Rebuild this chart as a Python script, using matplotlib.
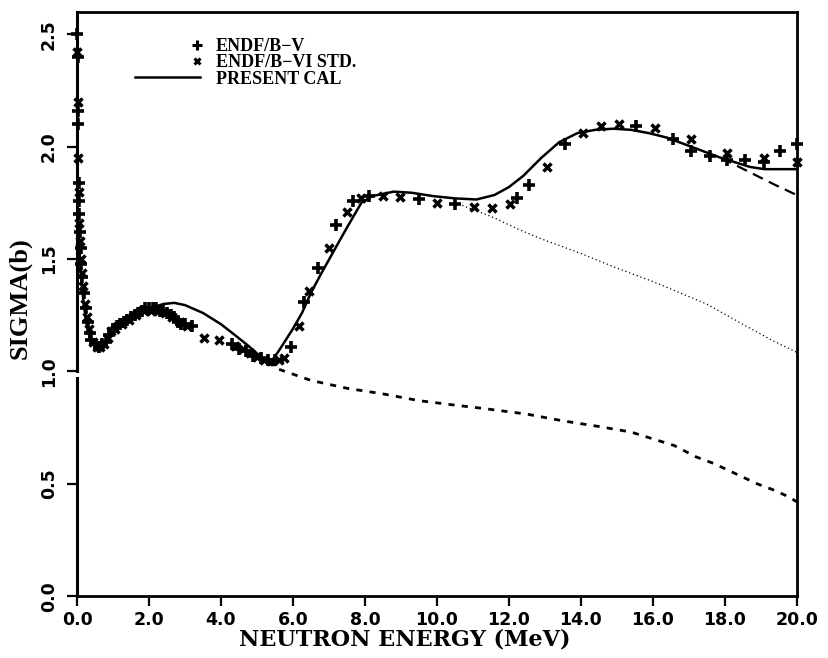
import matplotlib
matplotlib.use('Agg')
import matplotlib.pyplot as plt
import matplotlib.transforms as mtransforms
from matplotlib.legend_handler import HandlerLine2DCompound
from matplotlib.lines import Line2D

# ENDF/B-V evaluation (plus markers)
endf5_e = [0.01, 0.02, 0.02, 0.03, 0.04, 0.05, 0.06, 0.08, 0.10, 0.12, 0.15,
           0.20, 0.25, 0.30, 0.35, 0.40, 0.50, 0.60, 0.70, 0.80, 0.90, 1.0,
           1.1, 1.2, 1.3, 1.4, 1.5, 1.6, 1.7, 1.8, 1.9, 2.0, 2.1, 2.2, 2.3,
           2.4, 2.5, 2.6, 2.7, 2.8, 2.9, 3.0, 3.2, 4.3, 4.5, 4.7, 4.9, 5.1,
           5.3, 5.5, 5.95, 6.31, 6.7, 7.2, 7.68, 8.1, 9.5, 10.5, 12.23,
           12.57, 13.55, 15.53, 16.56, 17.07, 17.6, 18.05, 18.57, 19.08,
           19.55, 20.0]
endf5_s = [2.50, 2.40, 2.16, 2.10, 1.84, 1.76, 1.70, 1.62, 1.55, 1.48, 1.42,
           1.35, 1.28, 1.22, 1.17, 1.14, 1.12, 1.11, 1.12, 1.13, 1.16, 1.19,
           1.20, 1.21, 1.22, 1.23, 1.24, 1.25, 1.26, 1.27, 1.28, 1.28, 1.28,
           1.28, 1.27, 1.27, 1.26, 1.25, 1.24, 1.22, 1.21, 1.21, 1.20, 1.12,
           1.10, 1.09, 1.07, 1.06, 1.05, 1.05, 1.11, 1.31, 1.46, 1.65, 1.76,
           1.78, 1.765, 1.745, 1.77, 1.83, 2.01, 2.09, 2.035, 1.98, 1.96,
           1.94, 1.94, 1.93, 1.98, 2.01]

# ENDF/B-VI standard (cross markers)
endf6_e = [0.01, 0.02, 0.03, 0.04, 0.06, 0.08, 0.10, 0.13, 0.17, 0.22, 0.28,
           0.33, 0.45, 0.55, 0.65, 0.75, 0.85, 0.95, 1.05, 1.25, 1.45, 1.65,
           1.85, 2.05, 2.25, 2.45, 2.65, 2.85, 3.05, 3.52, 3.94, 4.4, 4.6,
           4.8, 5.0, 5.2, 5.4, 5.6, 5.76, 6.17, 6.45, 7.0, 7.49, 7.9, 8.5,
           8.97, 10.0, 11.03, 11.54, 12.04, 13.07, 14.05, 14.55, 15.05,
           16.06, 17.07, 18.05, 19.08, 20.0]
endf6_s = [2.42, 2.20, 1.95, 1.80, 1.66, 1.58, 1.50, 1.44, 1.38, 1.30, 1.24,
           1.19, 1.13, 1.11, 1.11, 1.12, 1.15, 1.18, 1.19, 1.21, 1.23, 1.25,
           1.27, 1.27, 1.27, 1.26, 1.24, 1.22, 1.20, 1.15, 1.14, 1.115, 1.10,
           1.08, 1.065, 1.05, 1.045, 1.05, 1.06, 1.20, 1.36, 1.55, 1.71,
           1.77, 1.78, 1.775, 1.75, 1.73, 1.725, 1.745, 1.91, 2.06, 2.09,
           2.10, 2.085, 2.035, 1.97, 1.95, 1.93]

# present calculation (total)
cal_e = [0.03, 0.06, 0.10, 0.17, 0.25, 0.35, 0.50, 0.65, 0.80, 1.0, 1.3,
         1.6, 2.0, 2.4, 2.7, 3.0, 3.5, 4.0, 4.4, 4.75, 5.0, 5.2, 5.4, 5.6,
         5.8, 6.0, 6.25, 6.5, 6.8, 7.15, 7.5, 7.9, 8.2, 8.5, 8.8, 9.3, 9.9,
         10.5, 11.1, 11.6, 12.0, 12.4, 12.9, 13.4, 13.9, 14.4, 14.9, 15.4,
         15.9, 16.4, 16.9, 17.4, 17.9, 18.3, 18.7, 19.1, 19.5, 20.0]
cal_s = [1.70, 1.56, 1.45, 1.32, 1.22, 1.15, 1.11, 1.11, 1.13, 1.17, 1.21,
         1.25, 1.28, 1.30, 1.305, 1.295, 1.26, 1.21, 1.16, 1.115, 1.08,
         1.05, 1.045, 1.09, 1.14, 1.19, 1.26, 1.35, 1.44, 1.54, 1.64, 1.75,
         1.78, 1.79, 1.80, 1.795, 1.78, 1.77, 1.765, 1.785, 1.82, 1.87,
         1.95, 2.02, 2.06, 2.075, 2.08, 2.075, 2.06, 2.04, 2.01, 1.98,
         1.95, 1.93, 1.91, 1.90, 1.90, 1.90]

# partial components
alt_e = [17.9, 18.4, 18.9, 19.4, 20.0]
alt_s = [1.95, 1.91, 1.87, 1.83, 1.785]

dot_e = [10.6, 11.5, 12.3, 12.9, 14.0, 15.0, 16.0, 16.6, 17.5, 18.5, 19.3, 20.0]
dot_s = [1.745, 1.69, 1.63, 1.59, 1.525, 1.46, 1.40, 1.36, 1.30, 1.21, 1.14, 1.085]

low_e = [5.3, 5.6, 6.5, 7.5, 8.5, 9.5, 10.5, 11.3, 12.5, 13.5, 14.5, 15.4,
         16.0, 16.6, 17.2, 17.7, 18.3, 18.9, 19.4, 19.8, 20.0]
low_s = [1.04, 1.01, 0.96, 0.925, 0.90, 0.87, 0.85, 0.835, 0.81, 0.78, 0.755,
         0.73, 0.70, 0.67, 0.62, 0.59, 0.545, 0.50, 0.47, 0.44, 0.42]

x_ticks = [0, 2, 4, 6, 8, 10, 12, 14, 16, 18, 20]
y_ticks = [0.0, 0.5, 1.0, 1.5, 2.0, 2.5]

serif = ['Liberation Serif', 'DejaVu Serif']


class RightMarker(HandlerLine2DCompound):
    # legend marker sits at the right end of the handle, as in the original
    def get_xdata(self, legend, xdescent, ydescent, width, height, fontsize):
        xdata, _ = super().get_xdata(legend, xdescent, ydescent, width,
                                     height, fontsize)
        return xdata, [xdata[-1] - 2]


fig = plt.figure(figsize=(8.29, 6.58), dpi=100)
ax = fig.add_axes([0.093, 0.094, 0.868, 0.888])

ax.plot(cal_e, cal_s, color='k', lw=1.8, solid_capstyle='round')
ax.plot(alt_e, alt_s, color='k', lw=1.6, ls=(0, (5, 3)))
ax.plot(dot_e, dot_s, color='k', lw=0.9, ls=(0, (1, 2.2)))
ax.plot(low_e, low_s, color='k', lw=2.0, ls=(0, (2.2, 2.6)))
ax.plot(endf5_e, endf5_s, ls='none', marker='+', ms=8, mew=2.6, color='k',
        clip_on=False)
ax.plot(endf6_e, endf6_s, ls='none', marker='x', ms=6, mew=2.5, color='k',
        clip_on=False)

ax.set_xlim(0, 20)
ax.set_ylim(0, 2.6)
ax.set_xticks(x_ticks)
ax.set_xticklabels([f'{v:.1f}' for v in x_ticks])
ax.set_yticks(y_ticks)
ax.set_yticklabels([f'{v:.1f}' for v in y_ticks])
ax.tick_params(direction='out', length=7, width=1.6, pad=4)
ax.tick_params(axis='y', labelrotation=90, pad=7)
for lab in ax.get_xticklabels() + ax.get_yticklabels():
    lab.set_fontweight('heavy')
    lab.set_fontsize(12.5)
for lab in ax.get_yticklabels():
    lab.set_va('center')

for side in ['top', 'right', 'bottom']:
    ax.spines[side].set_linewidth(2.0)
# broken left axis around 1.0
ax.spines['left'].set_visible(False)
trans = mtransforms.blended_transform_factory(ax.transAxes, ax.transData)
ax.plot([0, 0], [1.0, 2.6], transform=trans, color='k', lw=2.2, clip_on=False)
ax.plot([0, 0], [0.0, 0.97], transform=trans, color='k', lw=2.2, clip_on=False)

ax.set_xlabel('NEUTRON ENERGY (MeV)', family=['DejaVu Serif'],
              fontweight='bold', fontsize=16)
ax.xaxis.set_label_coords(0.455, -0.056)
ax.set_ylabel('SIGMA(b)', family=serif, fontweight='bold', fontsize=19)
ax.yaxis.set_label_coords(-0.063, 0.51)

handles = [
    Line2D([], [], ls='none', marker='+', ms=6.5, mew=2.2, color='k'),
    Line2D([], [], ls='none', marker='x', ms=5, mew=2.2, color='k'),
    Line2D([], [], color='k', lw=1.8),
]
ax.legend(handles, ['ENDF/B\u2212V', 'ENDF/B\u2212VI STD.', 'PRESENT CAL'],
          loc='upper left', bbox_to_anchor=(0.07, 0.967), frameon=False,
          prop={'family': serif, 'weight': 'bold', 'size': 13},
          handlelength=3.6, handletextpad=0.9, labelspacing=-0.05,
          borderaxespad=0,
          handler_map={handles[0]: RightMarker(), handles[1]: RightMarker()})

fig.savefig('out.png', dpi=100)
